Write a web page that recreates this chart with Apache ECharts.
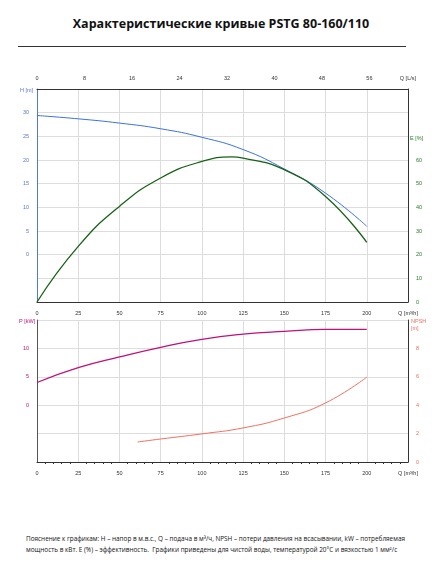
<!DOCTYPE html>
<html><head><meta charset="utf-8">
<script src="https://cdn.jsdelivr.net/npm/echarts@6/dist/echarts.min.js"></script>
<style>
body{margin:0;background:#fff;font-family:"Open Sans",sans-serif}
#t{position:absolute;top:15px;left:0;width:442px;text-align:center;font-weight:bold;font-size:12.5px;color:#111}
#hr{position:absolute;top:46px;left:18px;width:388px;border-top:1px solid #333}
#c{position:absolute;top:60px;left:0;width:442px;height:420px}
#f{position:absolute;top:533px;left:26px;width:410px;font-size:6.4px;line-height:11px;color:#111;white-space:nowrap}
</style></head><body>
<div id="t">Характеристические кривые PSTG 80-160/110</div>
<div id="hr"></div>
<div id="c"></div>
<div id="f">Пояснение к графикам: H – напор в м.в.с., Q – подача в м³/ч, NPSH – потери давления на всасывании, kW – потребляемая<br>мощность в кВт. E (%) – эффективность.&nbsp; Графики приведены для чистой воды, температурой 20°C и вязкостью 1 мм²/с</div>
<script>
const qHead = [0, 25, 50, 75, 100, 125, 150, 175, 200];
const head = [29.4, 28.7, 27.8, 26.6, 24.8, 22.2, 18.1, 13.0, 6.0];
const qEff = [0, 25, 50, 75, 100, 118, 125, 150, 175, 200];
const eff = [0, 23.5, 40.4, 52.4, 59.4, 61.3, 60.8, 55.9, 44.6, 25.2];
const qPower = [0, 25, 50, 75, 100, 125, 150, 175, 200];
const power = [4.0, 6.6, 8.5, 10.2, 11.6, 12.5, 13.0, 13.35, 13.35];
const qNpsh = [61, 75, 100, 125, 150, 175, 200];
const npsh = [1.41, 1.62, 1.98, 2.4, 3.1, 4.16, 5.98];

const pair = (xs, ys) => xs.map((x, i) => [x, ys[i]]);
const fs = 5.5;
const grid = { color: '#ddd' };

const xBase = (gridIndex, extra) => Object.assign({
  type: 'value', gridIndex, min: 0, max: 225, interval: 25,
  axisLine: { onZero: false, lineStyle: { color: '#333' } },
  axisTick: { show: false },
  splitLine: { show: true, lineStyle: grid },
  axisLabel: { fontSize: fs, color: '#333', formatter: (v) => (v === 225 ? 'Q [m³/h]' : v) },
}, extra);

const yAxis = (gridIndex, o) => Object.assign({
  type: 'value', gridIndex,
  axisTick: { show: false },
}, o);

const line = (x, y, data, color, width) => ({
  type: 'line', xAxisIndex: x, yAxisIndex: y, data, smooth: true,
  showSymbol: false, lineStyle: { color, width },
});

const chart = echarts.init(document.getElementById('c'));
chart.setOption({
  animation: false,
  grid: [
    { left: 37, right: 34, top: 29, height: 213 },
    { left: 37, right: 34, top: 260, height: 142 },
  ],
  graphic: [
    { type: 'text', right: 26, top: 15, style: { text: 'Q [L/s]', fontSize: fs, fill: '#333' } },
    { type: 'text', left: 410, top: 75, style: { text: 'E [%]', fontSize: fs, fill: '#2a7a2a' } },
    { type: 'text', left: 20, top: 27, style: { text: 'H [m]', fontSize: fs, fill: '#5577dd' } },
    { type: 'text', left: 19, top: 258, style: { text: 'P [kW]', fontSize: fs, fill: '#c0117a' } },
    { type: 'text', left: 411, top: 258, style: { text: 'NPSH\n[m]', fontSize: fs, lineHeight: 7, fill: '#f07060' } },
  ],
  xAxis: [
    xBase(0, { position: 'bottom' }),
    { type: 'value', gridIndex: 0, position: 'top', min: 0, max: 62.5, interval: 8,
      axisLine: { onZero: false, lineStyle: { color: '#333' } }, axisTick: { show: false }, splitLine: { show: false },
      axisLabel: { fontSize: fs, color: '#333', showMaxLabel: false } },
    xBase(1, { position: 'bottom', minorTick: { show: true, splitNumber: 5, length: 2, lineStyle: { color: '#333' } } }),
  ],
  yAxis: [
    yAxis(0, { min: -10, max: 35, interval: 5,
      axisLine: { show: true, onZero: false, lineStyle: { color: '#5577dd' } },
      splitLine: { show: true, lineStyle: grid },
      axisLabel: { fontSize: fs, color: '#5577dd', formatter: (v) => (v >= 0 && v <= 30 ? v : '') } }),
    yAxis(0, { min: 0, max: 90, interval: 10, position: 'right',
      axisLine: { show: true, onZero: false, lineStyle: { color: '#333' } },
      splitLine: { show: false },
      axisLabel: { fontSize: fs, color: '#2a7a2a', formatter: (v) => (v <= 60 ? v : '') } }),
    yAxis(1, { min: -10, max: 15, interval: 5,
      axisLine: { show: true, onZero: false, lineStyle: { color: '#555' } },
      splitLine: { show: true, lineStyle: grid },
      axisLabel: { fontSize: fs, color: '#c0117a', formatter: (v) => (v >= 0 && v <= 10 ? v : '') } }),
    yAxis(1, { min: 0, max: 10, interval: 2, position: 'right',
      axisLine: { show: true, onZero: false, lineStyle: { color: '#333' } },
      splitLine: { show: false },
      axisLabel: { fontSize: fs, color: '#f07060', formatter: (v) => (v <= 8 ? v : '') } }),
  ],
  series: [
    line(0, 0, pair(qHead, head), '#3a6fe6', 1),
    line(0, 1, pair(qEff, eff), '#166316', 1.3),
    line(2, 2, pair(qPower, power), '#c0117a', 1.3),
    line(2, 3, pair(qNpsh, npsh), '#f07060', 1),
  ],
});
</script>
</body></html>
